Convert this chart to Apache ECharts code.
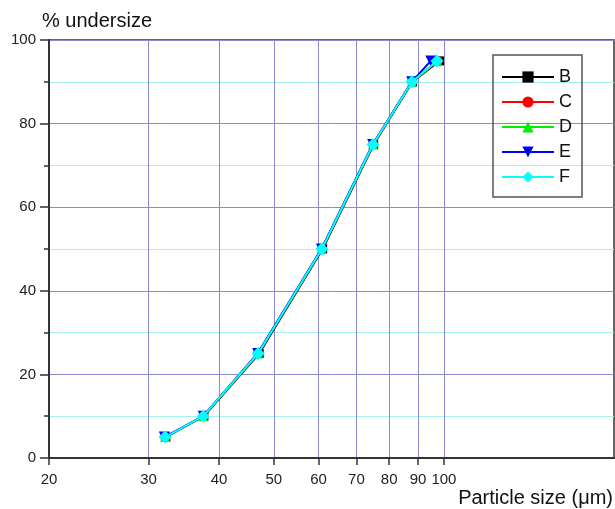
<!DOCTYPE html>
<html>
<head>
<meta charset="utf-8">
<script src="https://cdn.jsdelivr.net/npm/echarts@6/dist/echarts.min.js"></script>
<style>html,body{margin:0;padding:0;background:#fff}#c{width:615px;height:509px}</style>
</head>
<body>
<div id="c"></div>
<script>
var seriesNames = ['B', 'C', 'D', 'E', 'F'];
var undersize = [5, 10, 25, 50, 75, 90, 95];
var sizeB = [32.2, 37.6, 47.1, 61.0, 75.1, 88.0, 98.2];
var sizeC = [32.1, 37.5, 46.9, 60.8, 74.9, 87.8, 97.5];
var sizeD = [32.1, 37.5, 46.9, 60.8, 74.9, 87.8, 97.4];
var sizeE = [32.0, 37.5, 46.8, 60.7, 74.8, 87.7, 94.8];
var sizeF = [32.1, 37.5, 46.9, 60.8, 74.9, 87.8, 97.2];
var xTickLabels = [20, 30, 40, 50, 60, 70, 80, 90, 100];
var xMin = 20, xMax = 200;

var sizes = [sizeB, sizeC, sizeD, sizeE, sizeF];
var colors = ['#000000', '#ff0000', '#00ee00', '#0000ff', '#00ffff'];
var symbols = ['rect', 'circle', 'triangle', 'triangle', 'diamond'];
var rotates = [0, 0, 0, 180, 0];
var symSizes = [9, 10, 10, 11, 13];

function lg(v) { return Math.log10(v); }
var tickPos = xTickLabels.map(lg);
var FONT = 'Liberation Sans, Arial, sans-serif';

var series = seriesNames.map(function (n, i) {
  return {
    name: n,
    type: 'line',
    data: sizes[i].map(function (s, j) { return [lg(s), undersize[j]]; }),
    symbol: symbols[i],
    symbolRotate: rotates[i],
    symbolSize: symSizes[i],
    showAllSymbol: true,
    lineStyle: { color: colors[i], width: 2 },
    itemStyle: { color: colors[i] },
    z: 2 + i
  };
});

var chart = echarts.init(document.getElementById('c'));
chart.setOption({
  animation: false,
  textStyle: { fontFamily: FONT },
  grid: {
    left: 49, right: 1, top: 40, bottom: 51,
    show: true, borderColor: '#333', borderWidth: 1.5, backgroundColor: 'transparent'
  },
  xAxis: {
    type: 'value',
    min: lg(xMin), max: lg(xMax),
    axisLine: { show: true, onZero: false, lineStyle: { color: '#333', width: 2 } },
    axisTick: { show: true, inside: false, length: 7, customValues: tickPos, lineStyle: { color: '#333', width: 1.5 } },
    axisLabel: {
      customValues: tickPos,
      color: '#222', fontSize: 15, margin: 14,
      formatter: function (v) { return String(Math.round(Math.pow(10, v))); }
    },
    splitLine: { show: true, lineStyle: { color: '#8a8acc', width: 1 } }
  },
  yAxis: {
    type: 'value', min: 0, max: 100, interval: 20,
    axisLine: { show: true, lineStyle: { color: '#333', width: 2 } },
    axisTick: { show: true, inside: false, length: 9, lineStyle: { color: '#333', width: 1.5 } },
    minorTick: { show: true, splitNumber: 2, length: 5, lineStyle: { color: '#333', width: 1.5 } },
    axisLabel: { color: '#222', fontSize: 15, margin: 13 },
    splitLine: { show: true, lineStyle: { color: '#8a8acc', width: 1 } },
    minorSplitLine: { show: true, lineStyle: { color: '#a8f0f0', width: 1 } }
  },
  legend: {
    orient: 'vertical',
    right: 33, top: 55,
    itemWidth: 52, itemHeight: 14, itemGap: 7,
    padding: [13, 10, 11, 8],
    borderColor: '#555', borderWidth: 1.5,
    lineStyle: { width: 2 },
    textStyle: { fontSize: 18, lineHeight: 18, color: '#111' },
    data: seriesNames
  },
  graphic: [
    { type: 'text', left: 42, top: 11, style: { text: '% undersize', fontSize: 20, fill: '#111', fontFamily: FONT } },
    { type: 'text', right: 2, top: 488, style: { text: 'Particle size (\u03bcm)', fontSize: 20, fill: '#111', fontFamily: FONT } }
  ],
  series: series
});
</script>
</body>
</html>
